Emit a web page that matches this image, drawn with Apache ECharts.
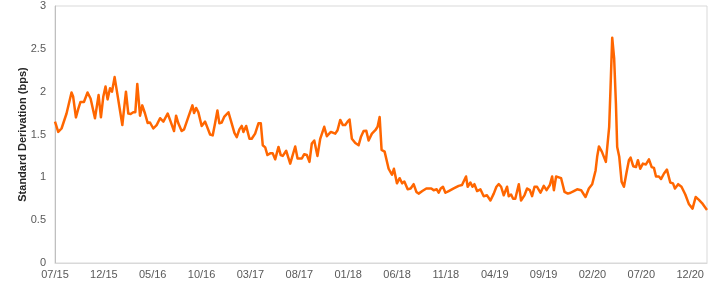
<!DOCTYPE html>
<html>
<head>
<meta charset="utf-8">
<script src="https://cdn.jsdelivr.net/npm/echarts@6/dist/echarts.min.js"></script>
<style>
html,body{margin:0;padding:0;background:#fff;}
#chart{width:720px;height:291px;}
</style>
</head>
<body>
<div id="chart"></div>
<script>
// x = months elapsed since July 2015
var months = [0,0.33,0.67,1.18,1.69,1.86,2.14,2.38,2.61,2.96,3.33,3.64,4.09,4.25,4.46,4.70,4.94,5.17,5.38,5.63,5.83,6.10,6.37,6.65,6.89,7.06,7.26,7.50,7.74,8.01,8.22,8.42,8.70,8.93,9.21,9.48,9.72,10.06,10.40,10.75,11.09,11.26,11.53,11.77,11.94,12.18,12.39,12.62,12.96,13.21,13.65,13.82,14.06,14.23,14.44,14.67,15.01,15.36,15.52,15.87,16.14,16.38,16.62,16.82,17.06,17.31,17.75,18.08,18.36,18.60,18.87,19.11,19.28,19.56,19.90,20.13,20.48,20.82,21.06,21.26,21.51,21.74,22.02,22.28,22.53,22.87,23.10,23.31,23.66,24.07,24.58,24.82,25.26,25.50,25.77,26.04,26.28,26.53,26.86,27.14,27.55,27.82,28.23,28.68,28.91,29.19,29.46,29.70,29.94,30.14,30.38,30.73,31.07,31.30,31.58,31.85,32.09,32.43,32.78,33.01,33.22,33.42,33.73,34.14,34.48,34.68,34.99,35.27,35.52,35.75,36.09,36.39,36.70,36.98,37.21,37.59,38.00,38.51,38.75,39.06,39.26,39.47,39.70,39.95,40.29,40.80,41.31,41.65,41.82,42.06,42.23,42.51,42.72,42.92,43.19,43.53,43.87,44.21,44.56,44.90,45.17,45.41,45.65,45.92,46.10,46.26,46.43,46.67,46.88,47.10,47.46,47.69,48.04,48.31,48.59,48.82,49.07,49.33,49.68,50.02,50.30,50.64,50.87,51.05,51.28,51.56,51.79,52.14,52.48,52.76,53.09,53.43,53.84,54.12,54.29,54.63,54.97,55.14,55.32,55.48,55.66,55.96,56.37,56.71,56.85,57.02,57.22,57.40,57.53,57.74,57.98,58.22,58.49,58.73,58.90,59.17,59.45,59.65,59.89,60.16,60.47,60.78,61.06,61.29,61.50,61.80,62.01,62.32,62.62,62.96,63.24,63.44,63.77,64.11,64.50,64.88,65.24,65.56,65.87,66.21,66.52,66.72];
var stdDev = [1.65,1.53,1.57,1.745,1.99,1.94,1.70,1.80,1.88,1.88,1.99,1.92,1.69,1.69,1.96,1.70,1.94,2.06,1.91,2.04,2.00,2.17,1.98,1.78,1.61,1.59,2.00,1.745,1.74,1.76,1.76,2.09,1.72,1.84,1.745,1.635,1.64,1.57,1.61,1.69,1.65,1.64,1.745,1.67,1.67,1.54,1.72,1.63,1.54,1.56,1.705,1.72,1.84,1.75,1.81,1.76,1.60,1.65,1.64,1.50,1.49,1.63,1.78,1.63,1.64,1.705,1.76,1.63,1.52,1.47,1.56,1.60,1.53,1.60,1.45,1.45,1.51,1.63,1.63,1.375,1.35,1.26,1.28,1.28,1.21,1.355,1.26,1.25,1.31,1.16,1.36,1.22,1.22,1.27,1.26,1.18,1.395,1.43,1.25,1.45,1.59,1.48,1.53,1.51,1.55,1.67,1.61,1.61,1.65,1.675,1.45,1.40,1.375,1.47,1.54,1.545,1.43,1.51,1.55,1.59,1.705,1.32,1.30,1.10,1.03,1.10,0.93,0.99,0.93,0.95,0.86,0.87,0.92,0.83,0.81,0.84,0.87,0.87,0.85,0.86,0.82,0.87,0.89,0.82,0.84,0.87,0.90,0.91,0.89,1.01,0.89,0.94,0.89,0.92,0.84,0.86,0.78,0.79,0.73,0.81,0.89,0.92,0.89,0.79,0.79,0.89,0.78,0.80,0.75,0.75,0.92,0.73,0.79,0.87,0.85,0.78,0.89,0.89,0.82,0.90,0.85,0.91,1.01,0.85,1.01,1.00,0.99,0.83,0.81,0.82,0.84,0.86,0.85,0.80,0.77,0.87,0.92,0.91,1.08,1.24,1.36,1.30,1.18,1.59,2.05,2.63,2.385,1.86,1.355,1.24,0.95,0.89,1.06,1.20,1.23,1.13,1.12,1.20,1.10,1.16,1.15,1.21,1.12,1.11,1.01,1.01,0.98,1.045,1.09,0.94,0.93,0.87,0.92,0.89,0.80,0.685,0.635,0.77,0.74,0.70,0.65,0.62];
var xTickLabels = ['07/15','12/15','05/16','10/16','03/17','08/17','01/18','06/18','11/18','04/19','09/19','02/20','07/20','12/20'];
var yAxisName = 'Standard Derivation (bps)';

var points = months.map(function (m, i) { return [m, stdDev[i]]; });
var narrow = "'Liberation Sans Narrow', 'Arial Narrow', 'Liberation Sans', Arial, sans-serif";

var chart = echarts.init(document.getElementById('chart'), null, {renderer: 'canvas'});
chart.setOption({
  animation: false,
  grid: {
    left: 55, top: 6, width: 652, height: 257,
    show: true, borderColor: '#d9d9d9', borderWidth: 1, backgroundColor: 'transparent'
  },
  xAxis: {
    type: 'value', min: 0, max: 66.72, interval: 5,
    axisLine: {show: true, lineStyle: {color: '#d9d9d9'}},
    axisTick: {show: false},
    splitLine: {show: false},
    axisLabel: {
      showMaxLabel: false, margin: 6,
      color: '#595959', fontSize: 11, fontFamily: narrow,
      formatter: function (v) { var k = Math.round(v / 5); return xTickLabels[k] || ''; }
    }
  },
  yAxis: {
    type: 'value', min: 0, max: 3, interval: 0.5,
    name: yAxisName, nameLocation: 'middle', nameRotate: 90, nameGap: 27, nameMoveOverlap: false,
    nameTextStyle: {color: '#262626', fontWeight: 'bold', fontSize: 11, fontFamily: "'Liberation Sans', Arial, sans-serif"},
    axisLine: {show: true, lineStyle: {color: '#bfbfbf'}},
    axisTick: {show: false},
    splitLine: {show: false},
    axisLabel: {margin: 9, color: '#595959', fontSize: 11, fontFamily: narrow}
  },
  series: [{
    type: 'line', data: points, showSymbol: false, symbol: 'none',
    lineStyle: {color: '#ff6600', width: 2.5, join: 'round'},
    itemStyle: {color: '#ff6600'}
  }]
});
</script>
</body>
</html>
